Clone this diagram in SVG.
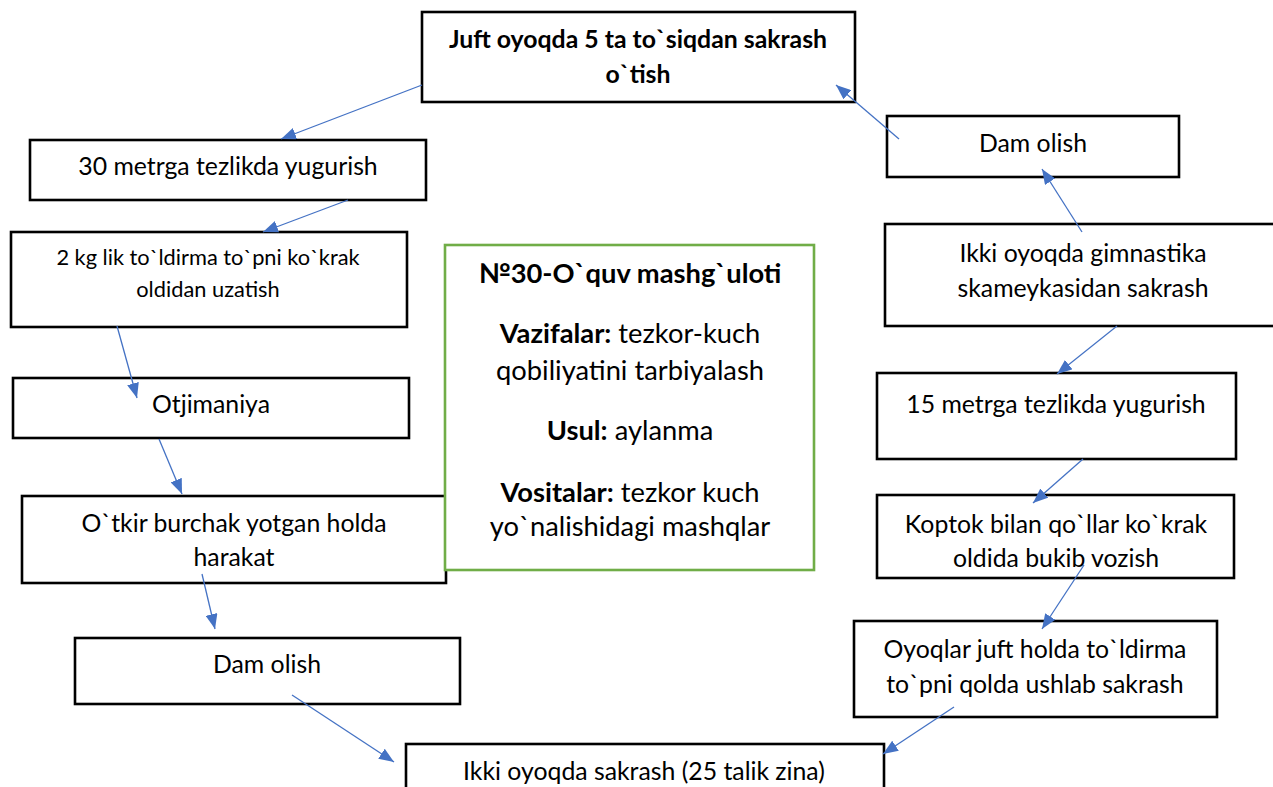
<svg xmlns="http://www.w3.org/2000/svg" width="1273" height="787" viewBox="0 0 1273 787">
<style>
.box{fill:#fff;stroke:#000;stroke-width:2.6}
.gbox{fill:#fff;stroke:#70AD47;stroke-width:2.6}
text{font-family:Lato,"Liberation Sans",sans-serif;font-size:24.8px;fill:#000;text-anchor:middle}
.b{font-weight:bold}
.s{font-size:21.8px}
.g{font-size:27.3px}
.con line{stroke:#4472C4;stroke-width:1.3;marker-end:url(#ah)}
</style>
<defs>
<marker id="ah" markerUnits="userSpaceOnUse" markerWidth="15" markerHeight="12" refX="15" refY="6" orient="auto">
<path d="M0,0 L15,6 L0,12 z" fill="#4472C4"/>
</marker>
</defs>
<g id="n-juft"><rect class="box" x="422" y="12" width="433" height="90"/>
<text class="b" x="638" y="48">Juft oyoqda 5 ta to`siqdan sakrash</text>
<text class="b" x="638" y="83">o`tish</text></g>
<g id="n-30m"><rect class="box" x="30" y="140" width="396" height="60"/>
<text x="228" y="175">30 metrga tezlikda yugurish</text></g>
<g id="n-2kg"><rect class="box" x="11" y="232" width="396" height="95"/>
<text class="s" x="208" y="265">2 kg lik to`ldirma to`pni ko`krak</text>
<text class="s" x="208" y="297">oldidan uzatish</text></g>
<g id="n-otj"><rect class="box" x="13" y="378" width="396" height="60"/>
<text x="211" y="413">Otjimaniya</text></g>
<g id="n-otkir"><rect class="box" x="22" y="496" width="424" height="87"/>
<text x="234" y="532">O`tkir burchak yotgan holda</text>
<text x="234" y="566">harakat</text></g>
<g id="n-dam1"><rect class="box" x="75" y="638" width="385" height="66"/>
<text x="267" y="673">Dam olish</text></g>
<g id="n-zina"><rect class="box" x="406" y="744" width="478" height="60"/>
<text x="644" y="780">Ikki oyoqda sakrash (25 talik zina)</text></g>
<g id="n-info"><rect class="gbox" x="445" y="245" width="369" height="325"/>
<text class="b g" x="630" y="283">№30-O`quv mashg`uloti</text>
<text class="g" x="630" y="343"><tspan class="b">Vazifalar:</tspan> tezkor-kuch</text>
<text class="g" x="630" y="380">qobiliyatini tarbiyalash</text>
<text class="g" x="630" y="440"><tspan class="b">Usul:</tspan> aylanma</text>
<text class="g" x="630" y="502"><tspan class="b">Vositalar:</tspan> tezkor kuch</text>
<text class="g" x="630" y="536">yo`nalishidagi mashqlar</text></g>
<g id="n-dam2"><rect class="box" x="887" y="116" width="292" height="61"/>
<text x="1033" y="152">Dam olish</text></g>
<g id="n-gimn"><rect class="box" x="885" y="224" width="400" height="102"/>
<text x="1083" y="262">Ikki oyoqda gimnastika</text>
<text x="1083" y="297">skameykasidan sakrash</text></g>
<g id="n-15m"><rect class="box" x="877" y="373" width="359" height="86"/>
<text x="1056" y="413">15 metrga tezlikda yugurish</text></g>
<g id="n-koptok"><rect class="box" x="877" y="495" width="357" height="83"/>
<text x="1056" y="533">Koptok bilan qo`llar ko`krak</text>
<text x="1056" y="567">oldida bukib vozish</text></g>
<g id="n-oyoq"><rect class="box" x="854" y="621" width="363" height="96"/>
<text x="1035" y="658">Oyoqlar juft holda to`ldirma</text>
<text x="1035" y="693">to`pni qolda ushlab sakrash</text></g>
<g id="connectors" class="con">
<line x1="422" y1="85" x2="281" y2="139"/>
<line x1="348" y1="200" x2="263" y2="232"/>
<line x1="117" y1="326" x2="137" y2="398"/>
<line x1="159" y1="439" x2="182" y2="494"/>
<line x1="202" y1="574" x2="215" y2="629"/>
<line x1="292" y1="695" x2="394" y2="762"/>
<line x1="954" y1="707" x2="883" y2="754"/>
<line x1="1084" y1="565" x2="1042" y2="629"/>
<line x1="1083" y1="459" x2="1033" y2="503"/>
<line x1="1117" y1="326" x2="1057" y2="374"/>
<line x1="1082" y1="232" x2="1042" y2="169"/>
<line x1="899" y1="139" x2="836" y2="85"/>
</g>
</svg>
